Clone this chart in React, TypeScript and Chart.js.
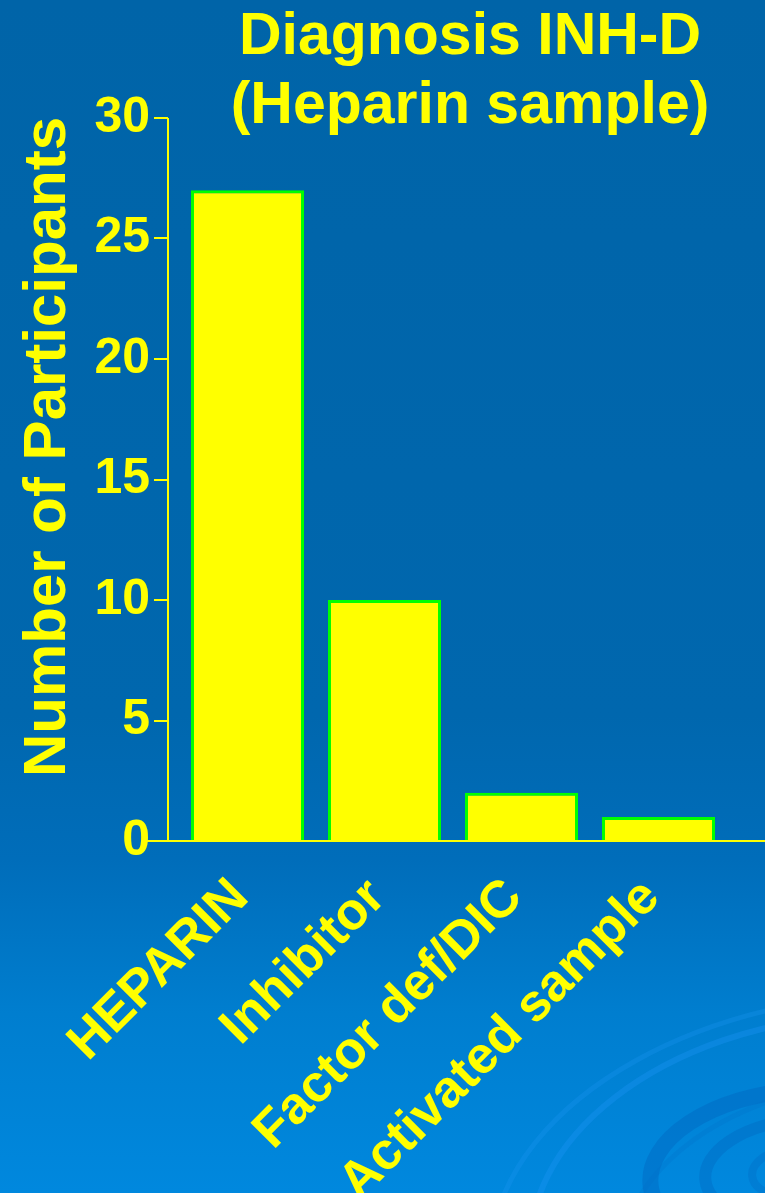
import React, { useEffect, useRef } from 'react';
import { Chart, registerables } from 'chart.js';

Chart.register(...registerables);

const categories = ['HEPARIN', 'Inhibitor', 'Factor def/DIC', 'Activated sample'];
const participants = [27, 10, 2, 1];
const yMin = 0;
const yMax = 30;
const yStep = 5;
const titleLines = ['Diagnosis INH-D', '(Heparin sample)'];
const yAxisTitle = 'Number of Participants';

const W = 765;
const H = 1193;
const FONT = '"Liberation Sans", Arial, sans-serif';
const YELLOW = '#ffff00';

const backgroundPlugin = {
  id: 'slideBackground',
  beforeDraw(chart: any) {
    const ctx = chart.ctx;
    ctx.save();
    const g = ctx.createLinearGradient(0, 0, 0, H);
    g.addColorStop(0, '#0064a8');
    g.addColorStop(0.6, '#0067ae');
    g.addColorStop(0.72, '#006dba');
    g.addColorStop(0.85, '#007ecf');
    g.addColorStop(1, '#0088de');
    ctx.fillStyle = g;
    ctx.fillRect(0, 0, W, H);

    // decorative swirl rings (bottom right)
    const ring = (cx: number, cy: number, rx: number, ry: number, color: string, lw: number, a0 = 0, a1 = Math.PI * 2) => {
      ctx.beginPath();
      ctx.ellipse(cx, cy, rx, ry, -0.08, a0, a1);
      ctx.strokeStyle = color;
      ctx.lineWidth = lw;
      ctx.stroke();
    };
    ring(800, 1172, 150, 82, 'rgba(0,100,190,0.4)', 16);
    ring(800, 1172, 95, 52, 'rgba(0,100,190,0.35)', 12);
    ring(800, 1172, 48, 26, 'rgba(0,100,190,0.28)', 8);
    ring(860, 1230, 330, 215, 'rgba(30,150,245,0.35)', 6, Math.PI * 1.0, Math.PI * 1.62);
    ring(880, 1240, 390, 245, 'rgba(30,150,245,0.28)', 5, Math.PI * 1.05, Math.PI * 1.65);
    ring(880, 1250, 260, 170, 'rgba(0,110,200,0.25)', 5, Math.PI * 1.1, Math.PI * 1.55);
    ctx.restore();
  },
};

const decorPlugin = {
  id: 'slideDecor',
  afterDraw(chart: any) {
    const ctx = chart.ctx;
    const area = chart.chartArea;
    const y = chart.scales.y;
    const axisX = area.left - 11;
    ctx.save();
    ctx.strokeStyle = YELLOW;
    ctx.lineWidth = 2;
    // y axis line
    ctx.beginPath();
    ctx.moveTo(axisX, y.getPixelForValue(yMax));
    ctx.lineTo(axisX, y.getPixelForValue(yMin));
    ctx.stroke();
    // tick marks
    for (let v = yMin; v <= yMax; v += yStep) {
      const py = Math.round(y.getPixelForValue(v));
      ctx.beginPath();
      ctx.moveTo(axisX - 14, py);
      ctx.lineTo(axisX, py);
      ctx.stroke();
    }
    // x axis line
    const y0 = Math.round(y.getPixelForValue(0));
    ctx.beginPath();
    ctx.moveTo(axisX - 26, y0);
    ctx.lineTo(W, y0);
    ctx.stroke();

    // title
    ctx.fillStyle = YELLOW;
    ctx.font = `bold 59px ${FONT}`;
    ctx.textAlign = 'center';
    ctx.textBaseline = 'alphabetic';
    ctx.fillText(titleLines[0], 470, 54);
    ctx.fillText(titleLines[1], 470, 123);

    // y axis title
    ctx.font = `bold 60px ${FONT}`;
    ctx.translate(65, 447);
    ctx.rotate(-Math.PI / 2);
    ctx.fillText(yAxisTitle, 0, 0);
    ctx.restore();
  },
};

export default function App() {
  const canvasRef = useRef<HTMLCanvasElement | null>(null);

  useEffect(() => {
    const canvas = canvasRef.current;
    if (!canvas) return;
    const chart = new Chart(canvas, {
      type: 'bar',
      data: {
        labels: categories,
        datasets: [
          {
            data: participants,
            backgroundColor: YELLOW,
            borderColor: '#00ff00',
            borderWidth: 3,
            categoryPercentage: 1,
            barPercentage: 0.825,
          },
        ],
      },
      options: {
        animation: false,
        responsive: false,
        maintainAspectRatio: false,
        layout: { padding: { top: 118, right: 38, left: 0, bottom: 0 } },
        plugins: {
          legend: { display: false },
          title: { display: false },
          tooltip: { enabled: false },
        },
        scales: {
          x: {
            grid: { display: false, drawTicks: false },
            border: { display: false },
            ticks: {
              autoSkip: false,
              minRotation: 45,
              maxRotation: 45,
              padding: 26,
              labelOffset: -7,
              color: YELLOW,
              font: { family: FONT, size: 52, weight: 'bold' },
            },
            afterFit(scale: any) {
              scale.height = 352;
            },
          },
          y: {
            min: yMin,
            max: yMax,
            grid: { display: false, drawTicks: false },
            border: { display: false },
            ticks: {
              stepSize: yStep,
              padding: 29,
              color: YELLOW,
              font: { family: FONT, size: 50, weight: 'bold' },
            },
            afterFit(scale: any) {
              scale.width = 179;
            },
          },
        },
      },
      plugins: [backgroundPlugin, decorPlugin],
    });
    return () => chart.destroy();
  }, []);

  return (
    <div style={{ position: 'absolute', left: 0, top: 0, width: W, height: H }}>
      <canvas ref={canvasRef} width={W} height={H} style={{ display: 'block', width: W, height: H }} />
    </div>
  );
}
